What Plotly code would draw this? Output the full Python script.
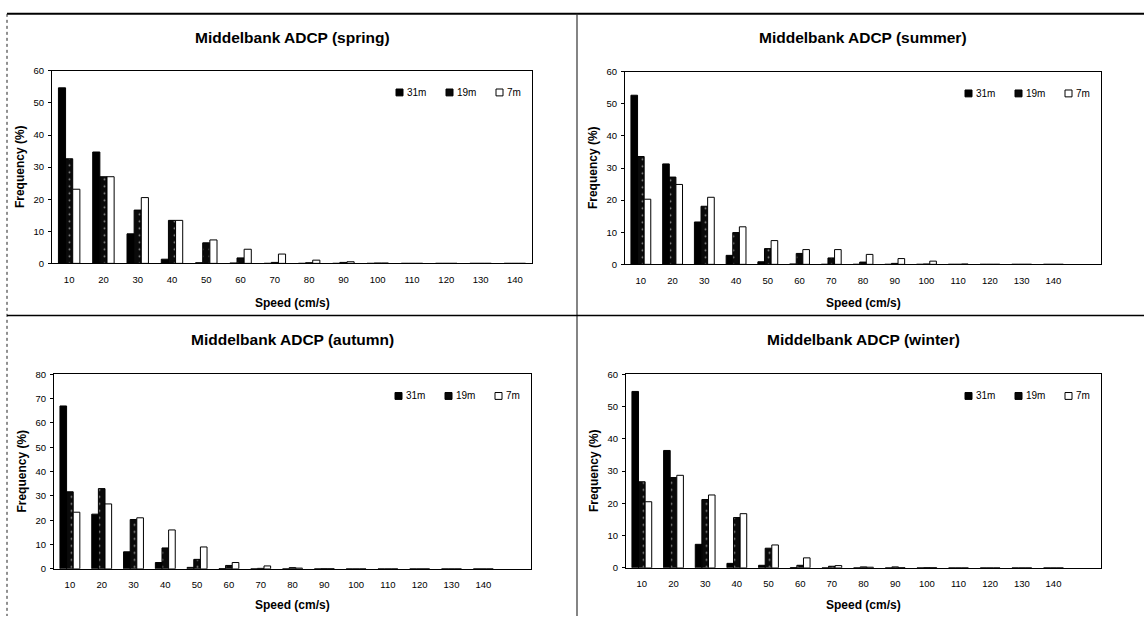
import plotly.graph_objects as go

# ---------------- data ----------------
speeds = [10, 20, 30, 40, 50, 60, 70, 80, 90, 100, 110, 120, 130, 140]
tick_labels = [str(s) for s in speeds]
series_names = ["31m", "19m", "7m"]
seasons = ["spring", "summer", "autumn", "winter"]

spring_31m = [54.7, 34.7, 9.2, 1.3, 0.2, 0.1, 0, 0, 0, 0, 0, 0, 0, 0]
spring_19m = [32.6, 27.0, 16.6, 13.4, 6.4, 1.7, 0.3, 0.2, 0.3, 0.1, 0, 0, 0, 0]
spring_7m = [23.1, 27.0, 20.5, 13.4, 7.3, 4.4, 2.9, 1.0, 0.5, 0.1, 0, 0, 0, 0]

summer_31m = [52.7, 31.3, 13.2, 2.8, 0.8, 0.1, 0, 0, 0, 0, 0, 0, 0, 0]
summer_19m = [33.6, 27.2, 18.1, 9.9, 4.9, 3.4, 2.0, 0.7, 0.3, 0.1, 0, 0, 0, 0]
summer_7m = [20.3, 24.9, 20.9, 11.7, 7.4, 4.6, 4.6, 3.1, 1.8, 1.0, 0.1, 0, 0, 0]

autumn_31m = [67.0, 22.5, 7.0, 2.6, 0.6, 0.1, 0, 0, 0, 0, 0, 0, 0, 0]
autumn_19m = [31.7, 33.0, 20.3, 8.6, 3.9, 1.4, 0.2, 0.5, 0.1, 0, 0, 0, 0, 0]
autumn_7m = [23.3, 26.7, 21.0, 16.0, 9.0, 2.6, 1.2, 0.3, 0.1, 0, 0, 0, 0, 0]

winter_31m = [54.7, 36.4, 7.3, 1.4, 0.8, 0.1, 0, 0, 0, 0, 0, 0, 0, 0]
winter_19m = [26.7, 28.0, 21.2, 15.6, 6.1, 0.8, 0.5, 0.3, 0.3, 0.1, 0, 0, 0, 0]
winter_7m = [20.5, 28.7, 22.6, 16.8, 7.1, 3.1, 0.7, 0.2, 0.1, 0.1, 0, 0, 0, 0]

season_data = {
    "spring": [spring_31m, spring_19m, spring_7m],
    "summer": [summer_31m, summer_19m, summer_7m],
    "autumn": [autumn_31m, autumn_19m, autumn_7m],
    "winter": [winter_31m, winter_19m, winter_7m],
}
y_max = {"spring": 60, "summer": 60, "autumn": 80, "winter": 60}
x_max = {"spring": 145, "summer": 155, "autumn": 155, "winter": 155}

# ---------------- layout geometry (pixels) ----------------
W, H = 1144, 621
# left, right, top, bottom of each plot area
geom = {
    "spring": (52, 532, 66, 262),
    "summer": (625, 1101, 67, 263),
    "autumn": (54, 531, 375, 573),
    "winter": (626, 1101, 375, 572),
}
title_y = {"spring": 32, "summer": 32, "autumn": 340, "winter": 340}
xtitle_y = {"spring": 302, "summer": 302, "autumn": 610, "winter": 610}

FONT = "Liberation Sans, Arial, sans-serif"


def px(x):
    return x / W


def py(y):
    return 1 - y / H


bar_styles = [
    dict(color="#000000", line=dict(color="#000000", width=1)),
    dict(color="#0a0a0a", line=dict(color="#000000", width=1),
         pattern=dict(shape=".", fgcolor="#ffffff", size=7, solidity=0.06,
                      fillmode="overlay")),
    dict(color="#ffffff", line=dict(color="#000000", width=1)),
]

fig = go.Figure()
shapes = []
annotations = []
layout_axes = {}

for i, season in enumerate(seasons, start=1):
    xa = "x" if i == 1 else f"x{i}"
    ya = "y" if i == 1 else f"y{i}"
    l, r, t, b = geom[season]
    for j, name in enumerate(series_names):
        fig.add_trace(go.Bar(
            x=speeds, y=season_data[season][j], name=name,
            xaxis=xa, yaxis=ya, marker=bar_styles[j], showlegend=False,
            offsetgroup=str(j),
        ))
    layout_axes["xaxis" if i == 1 else f"xaxis{i}"] = dict(
        domain=[px(l), px(r)], anchor=ya, range=[5, x_max[season]],
        tickvals=speeds, ticktext=tick_labels, showgrid=False, zeroline=False,
        showline=True, linecolor="#000000", linewidth=1, mirror=True,
        ticks="", tickfont=dict(family=FONT, size=9.5, color="#000"),
        ticklabelstandoff=7,
    )
    layout_axes["yaxis" if i == 1 else f"yaxis{i}"] = dict(
        domain=[py(b), py(t)], anchor=xa, range=[0, y_max[season]], dtick=10,
        showgrid=False, zeroline=False, showline=True, linecolor="#000000",
        linewidth=1, mirror=True, ticks="outside", ticklen=3,
        tickcolor="#000", tickfont=dict(family=FONT, size=9.5, color="#000"),
        ticklabelstandoff=2,
    )
    cx = (l + r) / 2
    annotations.append(dict(
        text=f"Middelbank ADCP ({season})", x=px(cx), y=py(title_y[season]),
        xref="paper", yref="paper", showarrow=False, xanchor="center",
        yanchor="middle",
        font=dict(family=FONT, size=15.5, color="#000", weight="bold"),
    ))
    annotations.append(dict(
        text="Speed (cm/s)", x=px(cx), y=py(xtitle_y[season]),
        xref="paper", yref="paper", showarrow=False, xanchor="center",
        yanchor="middle",
        font=dict(family=FONT, size=12, color="#000", weight="bold"),
    ))
    annotations.append(dict(
        text="Frequency (%)", x=px(l - 32), y=py((t + b) / 2),
        xref="paper", yref="paper", showarrow=False, xanchor="center",
        yanchor="middle", textangle=-90,
        font=dict(family=FONT, size=12, color="#000", weight="bold"),
    ))
    # legend (top right inside plot)
    lx0 = r - 136
    ly = t + 22
    for j, name in enumerate(series_names):
        sx = lx0 + 50 * j
        shapes.append(dict(
            type="rect", xref="paper", yref="paper",
            x0=px(sx), x1=px(sx + 7), y0=py(ly + 3.5), y1=py(ly - 3.5),
            fillcolor=bar_styles[j]["color"], line=dict(color="#000", width=1),
        ))
        annotations.append(dict(
            text=name, x=px(sx + 9), y=py(ly), xref="paper", yref="paper",
            showarrow=False, xanchor="left", yanchor="middle",
            font=dict(family=FONT, size=10, color="#000"),
        ))

# panel frame lines
shapes += [
    dict(type="line", xref="paper", yref="paper", x0=px(7), x1=1, y0=py(8), y1=py(8), line=dict(color="#000", width=2)),
    dict(type="line", xref="paper", yref="paper", x0=px(7), x1=px(7), y0=py(8), y1=0, line=dict(color="#222", width=1, dash="dot")),
    dict(type="line", xref="paper", yref="paper", x0=px(577), x1=px(577), y0=py(8), y1=0, line=dict(color="#333", width=1.2)),
    dict(type="line", xref="paper", yref="paper", x0=px(7), x1=1, y0=py(315), y1=py(315), line=dict(color="#000", width=1.5)),
]

fig.update_layout(
    width=W, height=H, margin=dict(l=0, r=0, t=0, b=0),
    paper_bgcolor="#ffffff", plot_bgcolor="#ffffff",
    barmode="group", bargap=0.375, bargroupgap=0,
    showlegend=False, shapes=shapes, annotations=annotations,
    font=dict(family=FONT, color="#000"),
    **layout_axes,
)

fig.write_html("out.html")
